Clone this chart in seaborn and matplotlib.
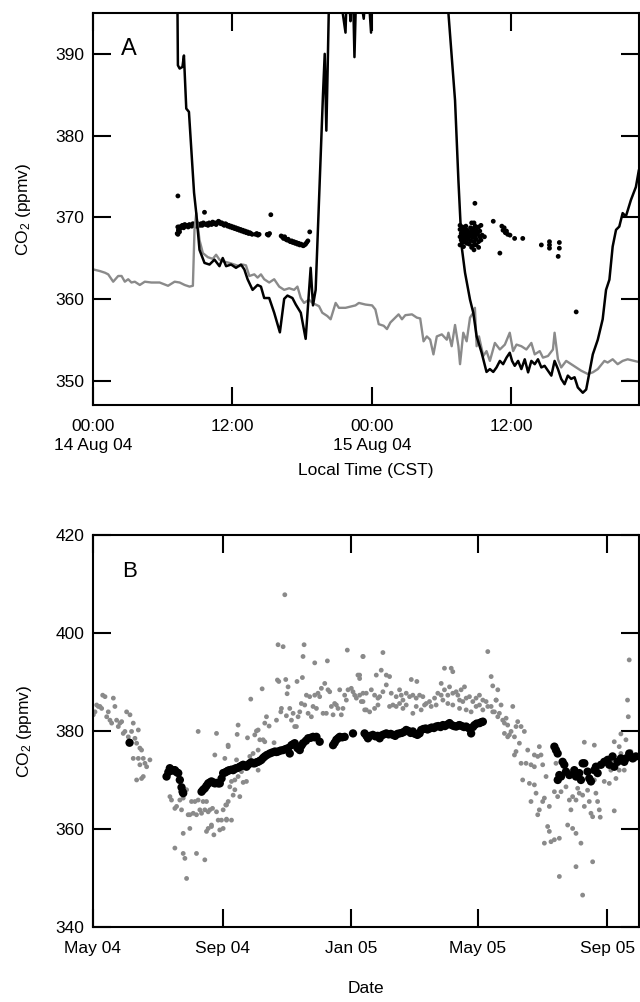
import numpy as np
import pandas as pd
import seaborn as sns
import matplotlib.pyplot as plt

# panel A: hours after 14 Aug 2004 00:00 CST, CO2 in ppmv
a_gray = [(0.03, 363.6), (0.6, 363.4), (1.03, 363.2), (1.31, 363.0), (1.74, 362.1), (2.17, 362.8),
          (2.46, 362.8), (2.74, 362.1), (3.03, 362.4), (3.31, 362.0), (3.6, 362.1), (4.03, 361.7),
          (4.46, 362.1), (5.03, 362.0), (5.74, 362.0), (6.46, 361.6), (7.03, 362.1), (7.46, 362.0),
          (7.89, 361.7), (8.31, 361.5), (8.6, 361.6), (8.74, 368.5), (8.89, 370.5), (9.17, 367.2),
          (9.46, 365.6), (9.89, 365.1), (10.31, 364.9), (10.6, 365.4), (10.89, 364.8), (11.17, 364.6),
          (11.46, 364.5), (11.74, 364.4), (12.17, 364.2), (12.6, 364.0), (12.88, 364.2), (13.17, 364.1),
          (13.46, 362.8), (13.89, 363.0), (14.17, 362.6), (14.46, 363.0), (14.74, 362.4), (15.17, 362.0),
          (15.6, 362.4), (16.03, 361.5), (16.46, 361.1), (16.89, 361.3), (17.31, 361.1), (17.6, 361.5),
          (17.89, 360.1), (18.17, 359.5), (18.6, 359.9), (18.89, 359.5), (19.17, 359.3), (19.46, 359.1),
          (19.74, 358.3), (20.17, 357.9), (20.46, 357.5), (20.89, 359.5), (21.17, 358.9), (21.74, 358.9),
          (22.31, 359.1), (22.6, 359.2), (22.89, 359.5), (23.46, 359.3), (24.03, 359.2), (24.31, 358.7),
          (24.6, 356.9), (25.03, 356.7), (25.31, 356.3), (25.6, 357.1), (26.03, 357.7), (26.31, 358.1),
          (26.6, 357.5), (26.89, 358.0), (27.46, 358.1), (27.88, 357.7), (28.17, 357.6), (28.46, 354.8),
          (28.74, 355.4), (29.03, 355.0), (29.31, 353.2), (29.6, 355.4), (30.03, 355.65), (30.46, 355.0),
          (30.6, 355.85), (30.88, 354.2), (31.17, 356.8), (31.46, 354.2), (31.6, 352.0), (31.88, 355.85),
          (32.17, 354.8), (32.46, 357.7), (32.74, 358.3), (32.88, 358.9), (33.03, 354.2), (33.23, 355.4),
          (33.6, 353.0), (33.88, 353.6), (34.17, 352.4), (34.6, 354.6), (35.03, 353.8), (35.46, 354.4),
          (35.88, 355.85), (36.17, 353.6), (36.46, 354.4), (36.88, 354.2), (37.31, 353.8), (37.74, 354.6),
          (38.03, 353.2), (38.46, 353.6), (38.74, 352.8), (39.17, 353.0), (39.6, 353.8), (39.74, 355.85),
          (40.03, 352.6), (40.31, 351.6), (40.74, 352.4), (41.17, 352.0), (41.6, 351.6), (42.03, 351.2),
          (42.6, 350.8), (43.03, 351.0), (43.46, 351.4), (44.03, 352.4), (44.31, 352.2), (44.74, 352.6),
          (45.17, 352.0), (45.6, 352.4), (46.03, 352.6), (46.6, 352.4), (46.89, 352.3)]

a_black = [(7.25, 400.0), (7.31, 388.6), (7.46, 388.2), (7.7, 388.4), (7.83, 389.8), (7.9, 387.5),
           (8.03, 383.3), (8.26, 382.9), (8.7, 373.0), (8.89, 370.5), (9.17, 366.0), (9.6, 364.4),
           (10.03, 364.2), (10.46, 364.8), (10.89, 364.0), (11.17, 365.0), (11.46, 364.0), (11.89, 364.2),
           (12.31, 363.8), (12.74, 364.2), (13.03, 363.6), (13.31, 362.4), (13.74, 361.1), (14.17, 361.7),
           (14.46, 361.5), (14.74, 360.1), (15.17, 360.1), (15.6, 358.3), (16.09, 355.9), (16.46, 360.0),
           (16.74, 360.4), (17.17, 360.1), (17.46, 359.3), (17.89, 358.3), (18.31, 355.1), (18.74, 363.8),
           (18.94, 359.2), (19.17, 361.1), (19.46, 372.1), (19.8, 385.0), (19.95, 390.0), (20.09, 380.6),
           (20.2, 388.0), (20.31, 396.0), (21.0, 400.0), (21.74, 392.6), (21.9, 400.0), (22.17, 394.0),
           (22.35, 400.0), (22.51, 389.6), (22.7, 400.0), (23.31, 394.3), (23.6, 400.0), (23.94, 392.6),
           (24.1, 400.0), (30.4, 400.0), (30.6, 395.0), (31.17, 384.3), (31.46, 374.5), (31.74, 366.4),
           (32.03, 363.2), (32.46, 359.9), (32.74, 358.3), (33.03, 355.4), (33.46, 353.4), (33.88, 351.05),
           (34.17, 351.4), (34.46, 351.05), (34.74, 351.6), (35.03, 352.4), (35.31, 352.0), (35.6, 352.8),
           (35.88, 353.4), (36.08, 352.4), (36.31, 351.8), (36.6, 352.4), (36.88, 351.4), (37.17, 352.6),
           (37.46, 351.0), (37.74, 352.4), (38.03, 352.0), (38.31, 352.6), (38.6, 351.6), (38.88, 351.8),
           (39.17, 351.2), (39.46, 350.6), (39.74, 352.4), (40.03, 351.4), (40.31, 350.2), (40.6, 349.55),
           (40.88, 350.6), (41.17, 350.2), (41.46, 350.4), (41.74, 349.15), (42.17, 348.5), (42.46, 348.9),
           (42.74, 351.0), (43.03, 353.2), (43.46, 355.0), (43.88, 357.5), (44.17, 361.1), (44.46, 362.35),
           (44.74, 366.4), (45.03, 368.45), (45.31, 368.85), (45.6, 370.5), (45.88, 370.1), (46.31, 372.1),
           (46.74, 373.7), (47.0, 375.8)]

a_dots = [(7.31, 372.6), (7.31, 367.9), (7.25, 368.0), (7.3, 368.8), (7.35, 368.4), (7.4, 368.8),
          (7.45, 368.2), (7.5, 368.6), (7.6, 368.9), (7.7, 369.0), (7.8, 368.7), (7.9, 369.1),
          (8.0, 368.9), (8.1, 369.0), (8.2, 368.8), (8.3, 369.1), (8.4, 369.0), (8.5, 368.9),
          (8.6, 369.2), (8.7, 369.0), (8.8, 369.1), (8.9, 368.9), (9.0, 369.2), (9.1, 369.1),
          (9.2, 369.0), (9.3, 369.2), (9.4, 369.0), (9.5, 369.3), (9.6, 370.6), (9.7, 369.1),
          (9.8, 369.2), (9.9, 369.0), (10.0, 369.3), (10.1, 369.2), (10.2, 369.1), (10.3, 369.4),
          (10.4, 369.2), (10.5, 369.3), (10.6, 369.1), (10.7, 369.3), (10.8, 369.5), (10.9, 369.4),
          (11.0, 369.2), (11.1, 369.3), (11.2, 369.1), (11.3, 369.0), (11.4, 369.2), (11.5, 369.1),
          (11.6, 368.9), (11.7, 369.0), (11.8, 368.8), (11.9, 368.9), (12.0, 368.7), (12.1, 368.8),
          (12.2, 368.6), (12.3, 368.7), (12.4, 368.5), (12.5, 368.6), (12.6, 368.4), (12.7, 368.5),
          (12.8, 368.3), (12.9, 368.4), (13.0, 368.2), (13.1, 368.3), (13.2, 368.1), (13.3, 368.2),
          (13.4, 368.0), (13.5, 368.1), (13.6, 368.0), (13.7, 367.9), (14.0, 367.9), (14.1, 368.0),
          (14.2, 367.8), (14.3, 367.9), (15.0, 367.9), (15.1, 367.8), (15.2, 368.0), (15.31, 370.3),
          (16.2, 367.7), (16.3, 367.6), (16.4, 367.4), (16.5, 367.6), (16.6, 367.3), (16.7, 367.2),
          (16.8, 367.3), (16.9, 367.1), (17.0, 367.0), (17.1, 367.1), (17.2, 366.9), (17.3, 367.0),
          (17.4, 366.8), (17.5, 366.9), (17.6, 366.7), (17.7, 366.8), (17.8, 366.6), (17.9, 366.7),
          (18.0, 366.6), (18.1, 366.5), (18.2, 366.6), (18.3, 366.7), (18.4, 366.9), (18.5, 367.1),
          (18.66, 368.2),
          (31.6, 368.5), (31.6, 367.6), (31.6, 366.6), (31.6, 369.0), (31.7, 368.0), (31.7, 367.2),
          (31.8, 368.8), (31.8, 367.8), (31.8, 366.9), (31.9, 368.3), (31.9, 367.5), (31.9, 366.4),
          (32.0, 368.6), (32.0, 367.9), (32.0, 367.0), (32.1, 368.1), (32.1, 367.4), (32.1, 368.9),
          (32.2, 367.7), (32.2, 366.8), (32.2, 368.4), (32.3, 368.2), (32.3, 367.3), (32.4, 368.0),
          (32.4, 366.7), (32.4, 367.6), (32.5, 368.7), (32.5, 367.1), (32.6, 369.3), (32.6, 368.3),
          (32.6, 367.8), (32.6, 366.3), (32.7, 368.6), (32.7, 367.5), (32.7, 366.5), (32.8, 369.3),
          (32.8, 368.1), (32.8, 367.0), (32.8, 366.0), (32.9, 368.9), (32.9, 367.7), (32.88, 371.7),
          (33.0, 368.4), (33.0, 367.3), (33.0, 366.6), (33.1, 368.0), (33.1, 367.9), (33.2, 368.8),
          (33.2, 367.0), (33.2, 366.3), (33.3, 368.3), (33.3, 367.6), (33.4, 369.0), (33.4, 367.2),
          (33.5, 367.8), (33.7, 367.6), (34.46, 369.5), (35.03, 365.6), (35.2, 368.9), (35.3, 368.4),
          (35.4, 368.7), (35.5, 368.1), (35.6, 368.3), (35.7, 367.9), (35.9, 367.8), (36.3, 367.4),
          (37.0, 367.4), (38.6, 366.6), (39.3, 367.0), (39.3, 366.6), (39.3, 366.2), (40.15, 366.9),
          (40.15, 366.2), (40.05, 365.2), (41.6, 358.4)]

a_xticks = [0, 12, 24, 36]
a_xlabels = ['00:00\n14 Aug 04', '12:00', '00:00\n15 Aug 04', '12:00']

# panel B: days after 1 May 2004, CO2 in ppmv
b_gray = [(0.3, 383.3), (1.9, 383.9), (3.5, 385.3), (5.1, 385.0), (6.6, 385.0), (8.2, 384.6),
          (9.2, 387.3), (11.4, 387.0), (13.0, 382.9), (14.5, 383.9), (16.1, 382.2), (17.7, 381.6),
          (19.3, 386.7), (20.8, 385.0), (22.4, 382.2), (24.0, 380.9), (25.6, 381.6), (27.2, 381.9),
          (28.7, 379.5), (30.3, 379.9), (31.9, 383.9), (33.5, 378.8), (35.1, 383.3), (36.6, 379.9),
          (38.2, 381.6), (39.8, 378.5), (41.4, 377.5), (43.0, 380.2), (44.5, 376.5), (46.1, 376.1),
          (38.2, 374.4), (43.0, 374.4), (44.5, 373.1), (47.7, 374.4), (49.3, 373.4), (50.9, 372.7),
          (54.0, 374.1), (41.4, 370.0), (46.1, 370.3), (47.7, 370.7), (73.0, 366.6), (74.5, 365.9),
          (77.7, 364.2), (79.3, 364.6), (82.4, 365.9), (84.0, 363.9), (85.6, 366.3), (87.2, 368.0),
          (88.8, 368.0), (90.3, 362.9), (91.9, 362.9), (93.5, 365.6), (95.1, 363.2), (96.7, 365.6),
          (98.2, 362.9), (99.8, 365.9), (101.4, 363.9), (103.0, 363.2), (104.5, 365.6), (106.1, 363.9),
          (107.7, 365.6), (109.3, 363.5), (110.9, 363.9), (112.4, 360.5), (113.4, 364.2), (114.7, 358.8),
          (115.6, 375.1), (117.2, 379.5), (118.8, 361.8), (120.3, 359.8), (121.9, 361.8), (123.5, 360.1),
          (125.1, 374.4), (126.0, 364.9), (126.7, 361.8), (128.2, 377.1), (77.7, 356.1), (85.6, 355.0),
          (87.2, 354.0), (88.8, 349.9), (98.2, 355.0), (106.1, 353.7), (91.9, 360.1), (85.6, 359.1),
          (99.8, 379.9), (107.7, 359.5), (109.3, 360.1), (112.4, 360.8), (117.2, 363.5),
          (182.0, 407.8), (175.6, 397.6), (180.4, 397.2), (200.3, 397.6), (199.3, 395.2), (210.4, 393.9),
          (222.4, 394.3), (241.3, 396.5), (256.2, 395.2), (160.5, 388.6), (175.0, 390.4), (176.3, 390.1),
          (182.9, 390.5), (185.1, 389.0), (184.2, 387.6), (193.6, 390.1), (198.7, 390.9), (149.7, 386.5),
          (137.7, 381.2), (136.8, 379.3), (146.6, 378.6), (164.6, 382.9), (163.0, 381.6), (167.1, 381.0),
          (174.1, 382.2), (178.2, 383.9), (178.8, 384.6), (183.5, 383.1), (186.7, 384.6), (188.3, 382.2),
          (189.9, 383.6), (191.4, 380.9), (194.6, 382.9), (193.0, 380.9), (196.2, 383.9), (197.7, 385.6),
          (200.9, 385.3), (202.5, 387.3), (204.1, 383.6), (205.6, 387.0), (207.2, 382.9), (208.8, 385.0),
          (210.4, 387.3), (212.0, 384.6), (213.5, 387.7), (215.1, 387.0), (216.7, 388.7), (218.3, 383.6),
          (219.9, 389.7), (221.4, 383.6), (223.0, 388.4), (224.6, 388.0), (226.2, 385.0), (227.8, 383.3),
          (229.3, 385.6), (230.9, 385.3), (232.5, 384.6), (234.1, 388.4), (235.6, 383.3), (237.2, 384.6),
          (238.8, 387.3), (240.4, 386.3), (242.0, 388.4), (245.1, 388.7), (246.7, 388.0), (248.3, 387.3),
          (249.9, 386.7), (251.4, 391.4), (253.0, 390.7), (254.6, 386.0), (256.2, 387.7), (257.8, 384.3),
          (153.5, 379.2), (155.1, 380.0), (156.7, 380.2), (158.3, 378.2), (161.4, 378.2), (163.0, 377.8),
          (171.8, 377.6), (156.7, 376.1), (151.9, 375.4), (148.8, 374.8), (144.1, 373.1), (140.9, 371.7),
          (137.7, 370.7), (134.6, 370.0), (131.4, 369.7), (129.8, 368.6), (134.6, 368.0), (133.0, 366.9),
          (139.3, 366.6), (128.3, 365.6), (126.7, 364.9), (126.7, 362.0), (131.4, 361.8), (123.5, 363.9),
          (145.6, 369.7), (142.5, 369.5), (136.2, 374.1), (128.3, 376.8), (156.7, 372.0),
          (256.2, 395.2), (275.1, 396.0), (374.6, 396.2), (253.0, 391.4), (268.8, 391.4), (273.5, 392.4),
          (278.3, 391.4), (281.4, 391.1), (333.5, 392.8), (339.9, 392.8), (341.4, 392.1), (302.0, 390.5),
          (307.3, 390.1), (377.8, 391.1), (379.3, 389.2), (330.4, 389.7), (338.3, 389.0), (349.3, 388.4),
          (352.5, 389.0), (259.3, 387.7), (264.1, 388.4), (267.2, 387.3), (270.4, 386.7), (275.1, 388.0),
          (278.3, 389.4), (283.0, 387.7), (287.7, 387.0), (290.9, 388.4), (292.5, 387.3), (294.1, 386.3),
          (297.2, 387.7), (300.4, 387.0), (303.5, 387.3), (306.7, 386.7), (309.9, 387.3), (313.0, 387.0),
          (316.2, 385.6), (319.3, 386.0), (324.1, 386.7), (327.2, 387.7), (330.4, 387.3), (333.5, 388.4),
          (336.7, 387.3), (341.4, 387.7), (344.6, 388.0), (346.2, 387.3), (347.8, 386.3), (350.9, 386.0),
          (354.1, 386.7), (357.2, 387.0), (360.4, 386.0), (363.5, 386.7), (366.7, 387.3), (369.9, 386.3),
          (373.0, 386.0), (377.8, 385.0), (382.5, 386.3), (384.1, 388.4), (253.0, 387.3), (256.2, 386.0),
          (259.3, 384.3), (262.5, 383.9), (267.2, 384.6), (270.4, 385.3), (272.0, 387.0), (281.4, 385.0),
          (284.6, 385.3), (287.7, 385.0), (290.9, 385.6), (294.1, 384.6), (297.2, 385.3), (303.5, 383.6),
          (306.7, 385.0), (311.4, 384.3), (314.6, 385.3), (320.9, 385.0), (325.6, 385.3), (332.0, 386.3),
          (336.7, 385.6), (341.4, 385.3), (347.8, 384.6), (354.1, 384.3), (358.8, 383.9), (363.5, 385.0),
          (366.7, 385.3), (369.9, 384.3), (374.6, 385.0), (379.3, 383.9), (384.1, 382.9),
          (508.8, 394.5), (507.2, 386.3), (507.9, 382.9), (500.9, 379.4), (494.6, 377.8), (499.3, 376.8),
          (505.7, 378.2), (510.4, 375.8), (382.5, 386.3), (387.2, 385.3), (385.6, 383.6), (380.9, 383.9),
          (388.8, 382.2), (392.0, 382.6), (390.4, 381.6), (393.5, 381.2), (398.3, 385.0), (396.7, 379.9),
          (395.1, 379.2), (403.0, 381.9), (401.4, 380.9), (406.2, 380.9), (409.3, 379.9), (399.9, 378.8),
          (404.6, 377.5), (390.4, 379.5), (393.5, 378.8), (401.4, 375.8), (399.9, 375.1), (412.5, 376.1),
          (406.2, 373.4), (410.9, 373.4), (415.6, 373.1), (418.8, 372.7), (422.0, 374.8), (423.5, 376.8),
          (425.1, 375.1), (426.7, 373.1), (418.8, 375.1), (407.7, 370.0), (414.1, 369.3), (418.8, 369.0),
          (420.4, 367.3), (429.9, 370.7), (428.3, 366.3), (426.7, 365.6), (415.6, 365.6), (423.5, 363.9),
          (422.0, 362.9), (433.0, 364.6), (431.4, 360.5), (433.0, 359.5), (428.3, 357.1), (434.6, 357.4),
          (437.8, 357.8), (442.5, 358.1), (450.4, 360.8), (455.1, 360.1), (458.3, 359.1), (463.0, 357.1),
          (458.3, 352.3), (442.5, 350.3), (464.6, 346.5), (474.1, 353.3), (439.3, 373.4), (437.8, 367.6),
          (440.9, 366.6), (444.1, 367.6), (448.8, 368.6), (452.0, 365.9), (453.5, 363.9), (455.1, 366.6),
          (458.3, 365.9), (459.9, 368.3), (461.4, 367.3), (464.6, 366.9), (466.2, 364.6), (469.3, 367.9),
          (470.9, 365.6), (472.5, 363.2), (474.1, 362.5), (477.2, 367.3), (478.8, 365.6), (480.4, 363.9),
          (481.3, 362.4), (475.7, 370.0), (466.2, 377.7), (475.7, 377.1), (485.1, 369.7), (489.9, 369.3),
          (496.2, 370.3), (494.6, 363.7), (491.4, 372.0), (499.3, 372.0), (504.1, 372.0), (513.6, 374.1),
          (500.9, 375.4), (493.0, 374.1)]

b_black = [(34.7, 377.6), (69.8, 370.7), (71.5, 371.6), (72.9, 372.4), (74.5, 371.9), (76.0, 372.0),
           (77.7, 372.0), (79.3, 371.6), (80.9, 371.4), (82.4, 370.0), (84.0, 368.5), (85.0, 367.6),
           (85.6, 367.3), (103.0, 367.6), (104.5, 368.0), (106.1, 368.3), (107.7, 368.8), (109.3, 369.3),
           (110.9, 369.5), (112.4, 369.7), (114.0, 369.5), (115.6, 369.3), (117.2, 369.4), (118.8, 369.3),
           (120.3, 369.3), (122.0, 370.3), (123.5, 371.4), (125.1, 371.5), (126.7, 371.7), (128.2, 371.9),
           (129.8, 372.0), (131.4, 372.1), (133.0, 372.0), (134.6, 372.3), (136.2, 372.4), (137.7, 372.5),
           (139.3, 372.7), (140.9, 372.9), (142.5, 373.1), (144.0, 372.9), (145.6, 372.7), (147.2, 373.1),
           (148.8, 373.4), (150.3, 373.6), (152.0, 373.4), (153.5, 373.4), (155.1, 373.6), (156.7, 373.7),
           (158.3, 373.9), (159.8, 374.1), (161.4, 374.5), (163.0, 374.8), (165.0, 375.1), (167.7, 375.4),
           (170.0, 375.6), (172.5, 375.8), (174.0, 375.7), (175.6, 375.8), (178.0, 376.0), (180.4, 376.1),
           (182.7, 376.3), (185.1, 376.5), (186.7, 375.4), (188.3, 377.1), (190.0, 377.3), (191.4, 377.5),
           (194.0, 376.5), (196.2, 376.1), (197.8, 377.0), (199.3, 377.5), (202.0, 378.0), (204.1, 378.5),
           (206.5, 378.6), (208.8, 378.8), (210.4, 378.7), (212.0, 378.8), (215.1, 377.8), (227.8, 377.1),
           (229.3, 377.6), (230.9, 378.2), (232.5, 378.5), (234.1, 378.8), (236.5, 378.7), (238.8, 378.8),
           (246.7, 379.5), (257.7, 379.5), (259.5, 379.0), (260.9, 378.5), (263.0, 379.0), (265.6, 379.2),
           (268.0, 378.9), (270.0, 379.0), (272.0, 378.5), (274.0, 379.1), (276.0, 379.3), (278.3, 379.5),
           (280.5, 379.3), (282.5, 379.4), (284.6, 379.2), (286.7, 379.0), (288.8, 379.4), (290.9, 379.5),
           (293.0, 379.6), (295.0, 379.8), (297.2, 380.2), (299.3, 380.0), (301.4, 379.6), (303.5, 379.9),
           (305.6, 379.4), (307.8, 379.2), (309.9, 379.5), (311.4, 380.2), (313.5, 380.4), (315.6, 380.5),
           (317.4, 380.3), (319.3, 380.5), (321.4, 380.7), (323.5, 380.6), (325.6, 380.9), (327.7, 381.0),
           (329.8, 380.8), (332.0, 381.2), (334.0, 381.0), (336.1, 381.3), (338.3, 381.6), (340.4, 381.2),
           (342.5, 381.0), (344.6, 380.9), (346.7, 381.1), (347.8, 381.2), (350.0, 381.0), (352.0, 380.8),
           (354.1, 380.9), (356.2, 380.6), (358.8, 379.5), (360.5, 380.8), (362.0, 381.2), (364.0, 381.5),
           (366.7, 381.6), (368.5, 381.8), (369.9, 381.9),
           (437.8, 376.8), (439.3, 376.1), (440.9, 375.4), (445.6, 373.7), (447.2, 373.1), (442.5, 371.0),
           (441.0, 370.0), (444.1, 370.7), (448.8, 371.7), (452.0, 371.0), (456.7, 372.0), (458.3, 370.7),
           (461.4, 371.4), (463.0, 370.0), (464.6, 373.4), (466.2, 373.4), (469.3, 371.7), (470.9, 370.3),
           (472.5, 369.7), (475.7, 372.0), (477.2, 372.7), (478.8, 371.4), (482.0, 373.1), (485.1, 373.7),
           (488.3, 374.1), (489.9, 373.1), (493.0, 374.8), (494.6, 372.7), (497.8, 373.7), (500.9, 374.4),
           (504.1, 373.7), (505.7, 374.4), (508.8, 375.4), (512.0, 374.4), (515.1, 374.8)]

b_start = pd.Timestamp('2004-05-01')
b_xticks = ['2004-05-01', '2004-09-01', '2005-01-01', '2005-05-01', '2005-09-01']
b_xlabels = ['May 04', 'Sep 04', 'Jan 05', 'May 05', 'Sep 05']

sns.set_style('ticks')
plt.rcParams['font.family'] = ['Liberation Sans', 'DejaVu Sans']
plt.rcParams['mathtext.default'] = 'regular'
plt.rcParams['font.size'] = 12.5
for key in ['text.color', 'axes.labelcolor', 'xtick.color', 'ytick.color', 'axes.edgecolor']:
    plt.rcParams[key] = 'black'

gray = '#8a8a8a'
fig = plt.figure(figsize=(6.4, 10.02), dpi=100)
ax1 = fig.add_axes([0.1453, 0.5958, 0.8530, 0.3912])
ax2 = fig.add_axes([0.1453, 0.0749, 0.8530, 0.3912])

ga = pd.DataFrame(a_gray, columns=['h', 'co2'])
ba = pd.DataFrame(a_black, columns=['h', 'co2'])
da = pd.DataFrame(a_dots, columns=['h', 'co2'])
sns.lineplot(data=ga, x='h', y='co2', ax=ax1, color=gray, lw=1.7, sort=False, estimator=None)
sns.lineplot(data=ba, x='h', y='co2', ax=ax1, color='black', lw=1.8, sort=False, estimator=None)
sns.scatterplot(data=da, x='h', y='co2', ax=ax1, color='black', s=12, edgecolor='none')
ax1.set_xlim(0, 47)
ax1.set_ylim(347, 395)
ax1.set_xticks(a_xticks)
ax1.set_xticklabels(a_xlabels, linespacing=1.35)
ax1.set_yticks([350, 360, 370, 380, 390])
ax1.set_xlabel('Local Time (CST)', labelpad=7)
ax1.set_ylabel('CO$_2$ (ppmv)', labelpad=16)
ax1.text(0.051, 0.893, 'A', transform=ax1.transAxes, fontsize=17)

gb = pd.DataFrame(b_gray, columns=['d', 'co2'])
gb['date'] = b_start + pd.to_timedelta(gb['d'], unit='D')
bb = pd.DataFrame(b_black, columns=['d', 'co2'])
bb['date'] = b_start + pd.to_timedelta(bb['d'], unit='D')
sns.scatterplot(data=gb, x='date', y='co2', ax=ax2, color=gray, s=12, edgecolor='none')
sns.scatterplot(data=bb, x='date', y='co2', ax=ax2, color='black', s=36, edgecolor='none')
ax2.set_xlim(pd.Timestamp('2004-05-01'), pd.Timestamp('2005-10-01'))
ax2.set_ylim(340, 420)
ax2.set_xticks(pd.to_datetime(b_xticks))
ax2.set_xticklabels(b_xlabels)
ax2.set_yticks([340, 360, 380, 400, 420])
ax2.set_xlabel('Date', labelpad=18)
ax2.set_ylabel('CO$_2$ (ppmv)', labelpad=16)
ax2.text(0.053, 0.894, 'B', transform=ax2.transAxes, fontsize=16)

for ax in (ax1, ax2):
    for sp in ax.spines.values():
        sp.set_linewidth(1.5)
        sp.set_visible(True)
    ax.tick_params(direction='in', length=13, width=1.5, top=True, right=True)
    ax.tick_params(axis='x', pad=10)
    ax.tick_params(axis='y', pad=6)

fig.savefig('out.png', dpi=100)
